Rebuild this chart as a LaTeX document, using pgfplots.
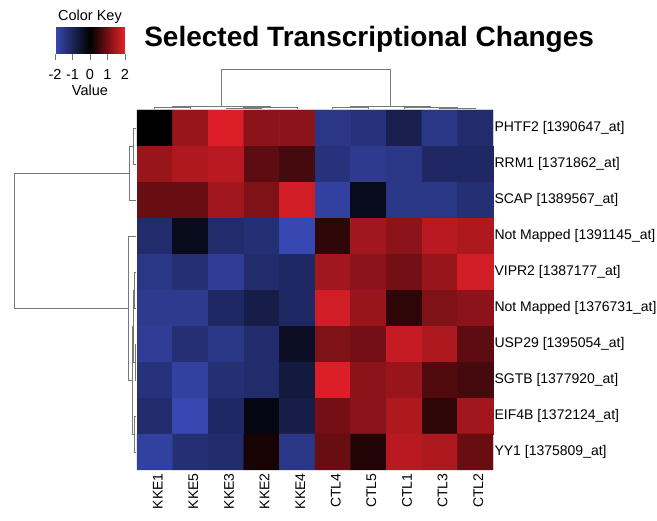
\documentclass[border=0pt]{standalone}
\usepackage{fontspec}
\setmainfont{Liberation Sans}
\usepackage{pgfplots}
\pgfplotsset{compat=1.18}
\definecolor{dendro}{RGB}{120,120,120}
\newcommand\keyf{\fontsize{14.5}{15}\selectfont}

\tikzset{
  lbl/.style={font=\fontsize{14}{15}\selectfont},
}
\pgfplotsset{
  branch/.style={dendro, line width=0.9pt, no marks, forget plot},
}

\begin{document}
\begin{tikzpicture}
\useasboundingbox (0pt,0pt) rectangle (657pt,521pt);
\begin{axis}[
  at={(137pt,51pt)}, anchor=south west,
  scale only axis, width=356pt, height=360pt,
  xmin=-0.5, xmax=9.5, ymin=-0.5, ymax=9.5, y dir=reverse,
  clip=false, axis line style={draw=none}, major tick length=0pt,
  xtick={0,...,9},
  xticklabels={KKE1,KKE5,KKE3,KKE2,KKE4,CTL4,CTL5,CTL1,CTL3,CTL2},
  ytick={0,...,9},
  yticklabels={PHTF2 [1390647\_at],RRM1 [1371862\_at],SCAP [1389567\_at],
    Not Mapped [1391145\_at],VIPR2 [1387177\_at],Not Mapped [1376731\_at],
    USP29 [1395054\_at],SGTB [1377920\_at],EIF4B [1372124\_at],YY1 [1375809\_at]},
  yticklabel pos=right,
  xticklabel style={lbl, rotate=90, anchor=east, yshift=-3pt},
  yticklabel style={lbl, anchor=west, xshift=-2pt},
  colormap={hm}{rgb255=(56,72,178) rgb255=(0,0,0) rgb255=(232,32,42)},
  point meta min=-2, point meta max=2,
  colorbar horizontal,
  colorbar/width=26pt,
  colorbar style={
    at={(parent axis.north west)}, anchor=north west,
    xshift=-82pt, yshift=91pt,
    scale only axis, width=70pt, height=26pt,
    xtick={-2,-1,0,1,2}, xticklabel pos=lower, xtick pos=lower,
    xticklabels={\keyf -2,\keyf -1,\keyf 0,\keyf 1,\keyf 2},
    xticklabel style={inner xsep=0pt, yshift=-6pt},
    xtick align=outside, major tick length=6pt,
    every tick/.style={draw=dendro, line width=0.7pt},
    axis line style={draw=none},
    title={\keyf Color Key}, title style={yshift=-6pt},
    xlabel={\keyf Value}, xlabel style={yshift=1pt},
  },
  title={\bfseries Selected Transcriptional Changes},
  title style={at={(0.652,1.181)}, anchor=center, font=\fontsize{28}{29}\selectfont},
]
% expression values, one line per gene (row), columns as in xticklabels
\addplot[matrix plot*, mesh/cols=10, point meta=explicit] coordinates {
 (0,0)[0.0] (1,0)[1.3] (2,0)[1.9] (3,0)[1.2] (4,0)[1.2] (5,0)[-1.5] (6,0)[-1.4] (7,0)[-0.9] (8,0)[-1.5] (9,0)[-1.2]
 (0,1)[1.3] (1,1)[1.5] (2,1)[1.6] (3,1)[0.8] (4,1)[0.6] (5,1)[-1.4] (6,1)[-1.6] (7,1)[-1.5] (8,1)[-1.1] (9,1)[-1.1]
 (0,2)[0.9] (1,2)[0.9] (2,2)[1.4] (3,2)[1.1] (4,2)[1.8] (5,2)[-1.8] (6,2)[-0.3] (7,2)[-1.5] (8,2)[-1.5] (9,2)[-1.3]
 (0,3)[-1.2] (1,3)[-0.3] (2,3)[-1.2] (3,3)[-1.3] (4,3)[-2.0] (5,3)[0.4] (6,3)[1.4] (7,3)[1.2] (8,3)[1.6] (9,3)[1.5]
 (0,4)[-1.5] (1,4)[-1.3] (2,4)[-1.7] (3,4)[-1.2] (4,4)[-1.1] (5,4)[1.4] (6,4)[1.2] (7,4)[1.0] (8,4)[1.3] (9,4)[1.8]
 (0,5)[-1.6] (1,5)[-1.6] (2,5)[-1.1] (3,5)[-0.8] (4,5)[-1.1] (5,5)[1.8] (6,5)[1.3] (7,5)[0.4] (8,5)[1.1] (9,5)[1.2]
 (0,6)[-1.7] (1,6)[-1.3] (2,6)[-1.5] (3,6)[-1.2] (4,6)[-0.4] (5,6)[1.1] (6,6)[1.0] (7,6)[1.7] (8,6)[1.5] (9,6)[0.8]
 (0,7)[-1.4] (1,7)[-1.8] (2,7)[-1.3] (3,7)[-1.2] (4,7)[-0.7] (5,7)[1.9] (6,7)[1.2] (7,7)[1.3] (8,7)[0.7] (9,7)[0.6]
 (0,8)[-1.2] (1,8)[-2.2] (2,8)[-1.1] (3,8)[-0.2] (4,8)[-0.8] (5,8)[1.0] (6,8)[1.2] (7,8)[1.5] (8,8)[0.4] (9,8)[1.4]
 (0,9)[-1.8] (1,9)[-1.3] (2,9)[-1.2] (3,9)[0.2] (4,9)[-1.5] (5,9)[0.9] (6,9)[0.3] (7,9)[1.6] (8,9)[1.5] (9,9)[0.9]
};

% column dendrogram
\addplot[branch] coordinates {(0,-0.52) (0,-0.56) (1,-0.56) (1,-0.52)};
\addplot[branch] coordinates {(2,-0.52) (2,-0.55) (3,-0.55) (3,-0.52)};
\addplot[branch] coordinates {(2.5,-0.55) (2.5,-0.57) (4,-0.57) (4,-0.52)};
\addplot[branch] coordinates {(0.5,-0.56) (0.5,-0.6) (3.25,-0.6) (3.25,-0.57)};
\addplot[branch] coordinates {(5,-0.52) (5,-0.56) (6,-0.56) (6,-0.52)};
\addplot[branch] coordinates {(8,-0.52) (8,-0.55) (9,-0.55) (9,-0.52)};
\addplot[branch] coordinates {(7,-0.52) (7,-0.58) (8.5,-0.58) (8.5,-0.55)};
\addplot[branch] coordinates {(5.5,-0.56) (5.5,-0.6) (7.75,-0.6) (7.75,-0.58)};
\addplot[branch] coordinates {(1.875,-0.6) (1.875,-1.64) (6.625,-1.64) (6.625,-0.6)};

% row dendrogram
\addplot[branch] coordinates {(-0.52,0) (-0.6,0) (-0.6,1) (-0.52,1)};
\addplot[branch] coordinates {(-0.6,0.5) (-0.7,0.5) (-0.7,2) (-0.52,2)};
\addplot[branch] coordinates {(-0.52,4) (-0.56,4) (-0.56,5) (-0.52,5)};
\addplot[branch] coordinates {(-0.52,6) (-0.55,6) (-0.55,7) (-0.52,7)};
\addplot[branch] coordinates {(-0.52,8) (-0.57,8) (-0.57,9) (-0.52,9)};
\addplot[branch] coordinates {(-0.56,4.5) (-0.6,4.5) (-0.6,6.5) (-0.55,6.5)};
\addplot[branch] coordinates {(-0.6,5.5) (-0.63,5.5) (-0.63,8.5) (-0.57,8.5)};
\addplot[branch] coordinates {(-0.52,3) (-0.75,3) (-0.75,7) (-0.63,7)};
\addplot[branch] coordinates {(-0.7,1.25) (-3.955,1.25) (-3.955,5) (-0.75,5)};
\end{axis}
\end{tikzpicture}
\end{document}
